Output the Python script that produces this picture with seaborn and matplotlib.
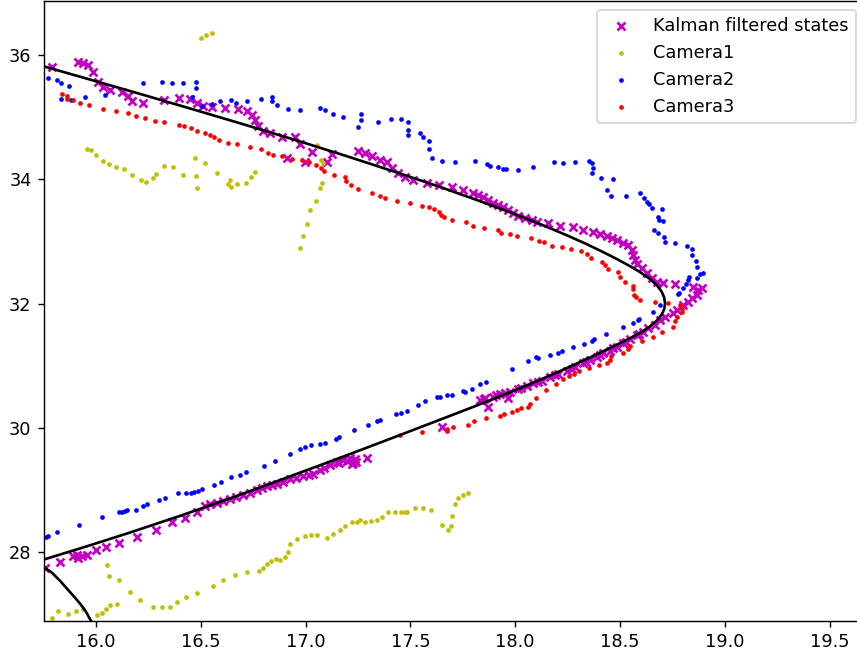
import matplotlib
matplotlib.use("Agg")
import matplotlib.pyplot as plt
import seaborn as sns

# Kalman filtered track states
kalman_x = [15.789, 15.916, 15.939, 15.963, 15.987, 16.011, 16.035, 16.067, 16.123, 16.151, 16.170, 16.226, 16.326, 16.397, 16.448, 16.480, 16.512, 16.552, 16.615, 16.679, 16.719, 16.743, 16.759, 16.774, 16.798, 16.830, 16.886, 16.949, 16.973, 17.029, 16.910, 16.997, 17.101, 17.125, 17.251, 17.283, 17.315, 17.355, 17.387, 17.411, 17.442, 17.474, 17.514, 17.578, 17.638, 17.697, 17.752, 17.800, 17.824, 17.848, 17.872, 17.896, 17.919, 17.943, 17.967, 17.991, 18.015, 18.047, 18.079, 18.103, 18.158, 18.214, 18.277, 18.325, 18.373, 18.405, 18.437, 18.460, 18.484, 18.516, 18.540, 18.556, 18.564, 18.572, 18.583, 18.604, 18.627, 18.651, 18.677, 18.707, 18.762, 18.850, 18.874, 18.890, 18.866, 18.842, 18.826, 18.802, 18.771, 18.754, 18.715, 18.691, 18.667, 18.635, 18.611, 18.580, 18.548, 18.516, 18.484, 18.452, 18.420, 18.389, 18.357, 18.325, 18.285, 18.246, 18.206, 18.166, 18.126, 18.086, 18.055, 18.015, 17.975, 17.967, 17.928, 17.896, 17.856, 17.872, 17.832, 17.649, 17.292, 17.228, 17.212, 17.180, 17.148, 17.116, 17.069, 17.037, 16.989, 16.926, 16.862, 16.814, 16.767, 16.703, 16.639, 16.576, 16.520, 16.480, 16.425, 16.361, 16.286, 16.194, 16.110, 16.048, 16.000, 15.956, 15.932, 15.916, 15.908, 15.892, 15.828, 15.757,
            16.545, 16.605, 16.670, 16.735, 16.790, 16.840, 16.890, 16.955, 17.015, 17.090, 17.160, 17.200, 17.235, 17.240, 17.220,
            17.850, 17.910, 17.950, 18.030, 18.110, 18.190, 18.270, 18.340, 18.405, 18.465, 18.530, 18.590]
kalman_y = [35.815, 35.883, 35.867, 35.839, 35.732, 35.571, 35.481, 35.437, 35.410, 35.341, 35.268, 35.233, 35.277, 35.304, 35.288, 35.223, 35.180, 35.169, 35.153, 35.127, 35.100, 35.035, 34.955, 34.858, 34.778, 34.741, 34.687, 34.677, 34.569, 34.445, 34.339, 34.275, 34.285, 34.404, 34.457, 34.420, 34.376, 34.312, 34.272, 34.178, 34.098, 34.043, 33.990, 33.947, 33.910, 33.873, 33.830, 33.786, 33.749, 33.712, 33.669, 33.625, 33.588, 33.551, 33.508, 33.465, 33.412, 33.375, 33.347, 33.320, 33.294, 33.251, 33.230, 33.187, 33.159, 33.122, 33.090, 33.063, 33.026, 32.982, 32.945, 32.865, 32.785, 32.704, 32.640, 32.571, 32.490, 32.410, 32.355, 32.334, 32.318, 32.275, 32.222, 32.249, 32.142, 32.088, 32.034, 31.981, 31.900, 31.847, 31.793, 31.740, 31.659, 31.606, 31.551, 31.498, 31.429, 31.365, 31.310, 31.246, 31.204, 31.150, 31.096, 31.043, 30.979, 30.924, 30.871, 30.818, 30.764, 30.722, 30.679, 30.625, 30.587, 30.481, 30.550, 30.506, 30.481, 30.346, 30.453, 30.024, 29.516, 29.441, 29.516, 29.489, 29.461, 29.408, 29.328, 29.264, 29.220, 29.178, 29.103, 29.060, 29.006, 28.926, 28.857, 28.793, 28.749, 28.642, 28.556, 28.481, 28.359, 28.251, 28.150, 28.085, 28.030, 27.961, 27.945, 27.908, 27.961, 27.934, 27.841, 27.747,
            28.770, 28.820, 28.890, 28.960, 29.030, 29.080, 29.130, 29.190, 29.250, 29.360, 29.430, 29.470, 29.500, 29.450, 29.420,
            30.470, 30.530, 30.560, 30.650, 30.745, 30.845, 30.950, 31.065, 31.175, 31.280, 31.390, 31.520]

# Camera 1 detections
cam1_x = [16.502, 16.524, 16.552, 15.959, 15.975, 16.001, 16.035, 16.061, 16.097, 16.134, 16.170, 16.213, 16.238, 16.271, 16.288, 16.324, 16.366, 16.417, 16.471, 16.479, 16.484, 16.520, 16.576, 16.638, 16.631, 16.644, 16.674, 16.717, 16.740, 16.757, 17.054, 17.073, 17.081, 17.079, 17.067, 17.050, 17.020, 17.005, 16.986, 16.975, 15.789, 15.820, 15.868, 15.905, 15.939, 16.005, 16.027, 16.048, 16.067, 16.099, 16.054, 16.062, 16.110, 16.164, 16.209, 16.271, 16.316, 16.353, 16.387, 16.428, 16.483, 16.557, 16.607, 16.663, 16.719, 16.779, 16.798, 16.816, 16.834, 16.859, 16.880, 16.902, 16.914, 16.926, 16.961, 16.996, 17.024, 17.054, 17.102, 17.132, 17.162, 17.187, 17.220, 17.244, 17.260, 17.282, 17.313, 17.339, 17.363, 17.394, 17.425, 17.455, 17.472, 17.484, 17.522, 17.560, 17.598, 17.652, 17.681, 17.694, 17.700, 17.713, 17.726, 17.750, 17.773]
cam1_y = [36.268, 36.317, 36.349, 34.494, 34.468, 34.387, 34.301, 34.243, 34.204, 34.175, 34.071, 33.990, 33.963, 34.018, 34.092, 34.219, 34.203, 34.071, 34.341, 34.058, 33.867, 34.259, 34.098, 33.990, 33.923, 33.870, 33.926, 33.947, 34.034, 34.111, 34.548, 34.312, 34.264, 33.947, 33.862, 33.658, 33.513, 33.283, 33.095, 32.892, 26.937, 27.050, 27.010, 27.050, 27.082, 26.992, 27.029, 27.089, 27.153, 27.174, 27.801, 27.613, 27.548, 27.359, 27.238, 27.121, 27.121, 27.121, 27.195, 27.281, 27.339, 27.460, 27.548, 27.629, 27.677, 27.696, 27.752, 27.814, 27.868, 27.900, 27.881, 27.926, 28.002, 28.130, 28.214, 28.267, 28.272, 28.272, 28.230, 28.299, 28.360, 28.416, 28.481, 28.481, 28.524, 28.481, 28.503, 28.519, 28.568, 28.645, 28.645, 28.645, 28.645, 28.645, 28.712, 28.712, 28.677, 28.444, 28.352, 28.416, 28.577, 28.770, 28.873, 28.926, 28.958]

# Camera 2 detections
cam2_x = [15.769, 15.813, 15.834, 15.870, 15.833, 15.882, 15.948, 16.043, 16.226, 16.313, 16.361, 16.417, 16.477, 16.477, 16.459, 16.506, 16.552, 16.593, 16.643, 16.670, 16.722, 16.785, 16.840, 16.842, 16.865, 16.914, 16.975, 17.067, 17.093, 17.129, 17.180, 17.251, 17.263, 17.263, 17.344, 17.406, 17.455, 17.491, 17.491, 17.491, 17.547, 17.560, 17.588, 17.588, 17.602, 17.652, 17.713, 17.808, 17.867, 17.880, 17.919, 17.943, 17.955, 18.015, 18.086, 18.187, 18.230, 18.285, 18.352, 18.365, 18.370, 18.365, 18.408, 18.468, 18.437, 18.456, 18.529, 18.595, 18.615, 18.627, 18.640, 18.651, 18.699, 18.680, 18.688, 18.704, 18.661, 18.680, 18.709, 18.715, 18.762, 18.818, 18.842, 18.842, 18.865, 18.867, 18.897, 18.882, 18.866, 18.831, 18.826, 18.815, 18.802, 18.783, 18.778, 18.691, 18.659, 18.593, 18.584, 18.561, 18.516, 18.433, 18.376, 18.365, 18.327, 18.277, 18.224, 18.206, 18.168, 18.110, 18.099, 18.063, 17.983, 17.861, 17.834, 17.795, 17.761, 17.752, 17.697, 17.673, 17.639, 17.628, 17.571, 17.538, 17.482, 17.457, 17.433, 17.355, 17.339, 17.299, 17.232, 17.160, 17.146, 17.093, 17.070, 17.027, 16.996, 16.971, 16.926, 16.854, 16.803, 16.717, 16.687, 16.644, 16.596, 16.564, 16.507, 16.488, 16.468, 16.455, 16.428, 16.393, 16.329, 16.302, 16.243, 16.226, 16.191, 16.150, 16.138, 16.123, 16.111, 16.029, 15.920, 15.814, 15.771, 15.761]
cam2_y = [35.625, 35.598, 35.545, 35.502, 35.293, 35.285, 35.320, 35.357, 35.545, 35.566, 35.545, 35.545, 35.566, 35.465, 35.320, 35.188, 35.212, 35.260, 35.277, 35.233, 35.260, 35.293, 35.320, 35.257, 35.193, 35.129, 35.111, 35.153, 35.111, 35.048, 35.008, 34.842, 34.950, 35.048, 34.923, 34.968, 34.966, 34.923, 34.794, 34.714, 34.741, 34.682, 34.613, 34.489, 34.339, 34.301, 34.280, 34.301, 34.243, 34.220, 34.195, 34.162, 34.162, 34.151, 34.195, 34.275, 34.259, 34.275, 34.301, 34.259, 34.178, 34.098, 34.027, 34.006, 33.830, 33.738, 33.738, 33.777, 33.696, 33.642, 33.605, 33.535, 33.519, 33.391, 33.347, 33.331, 33.187, 33.138, 33.079, 32.998, 32.973, 32.934, 32.881, 32.789, 32.688, 32.596, 32.490, 32.474, 32.410, 32.436, 32.383, 32.314, 32.249, 32.178, 32.153, 31.973, 31.873, 31.759, 31.740, 31.691, 31.627, 31.506, 31.426, 31.402, 31.359, 31.301, 31.233, 31.214, 31.177, 31.124, 31.150, 31.085, 30.947, 30.738, 30.706, 30.633, 30.587, 30.603, 30.534, 30.529, 30.506, 30.506, 30.433, 30.373, 30.280, 30.240, 30.224, 30.121, 30.105, 30.052, 29.963, 29.854, 29.831, 29.762, 29.746, 29.725, 29.690, 29.666, 29.582, 29.476, 29.392, 29.288, 29.252, 29.207, 29.124, 29.084, 29.011, 28.979, 28.963, 28.958, 28.953, 28.953, 28.873, 28.834, 28.778, 28.738, 28.685, 28.685, 28.658, 28.642, 28.642, 28.564, 28.444, 28.320, 28.256, 28.246]

# Camera 3 detections
cam3_x = [15.836, 15.862, 15.862, 15.888, 15.924, 15.968, 16.035, 16.095, 16.151, 16.190, 16.232, 16.281, 16.324, 16.397, 16.421, 16.453, 16.484, 16.522, 16.546, 16.564, 16.588, 16.631, 16.674, 16.735, 16.785, 16.822, 16.846, 16.886, 16.934, 16.981, 17.015, 17.051, 17.074, 17.090, 17.134, 17.189, 17.191, 17.215, 17.251, 17.319, 17.356, 17.380, 17.436, 17.498, 17.556, 17.590, 17.613, 17.636, 17.646, 17.662, 17.700, 17.765, 17.800, 17.853, 17.917, 17.932, 17.975, 18.007, 18.074, 18.114, 18.137, 18.174, 18.222, 18.268, 18.315, 18.341, 18.360, 18.413, 18.427, 18.443, 18.492, 18.500, 18.524, 18.561, 18.561, 18.565, 18.576, 18.595, 18.669, 18.730, 18.786, 18.798, 18.794, 18.773, 18.763, 18.754, 18.701, 18.657, 18.604, 18.550, 18.538, 18.516, 18.457, 18.451, 18.437, 18.400, 18.354, 18.304, 18.279, 18.256, 18.230, 18.194, 18.148, 18.101, 18.069, 18.061, 18.029, 18.009, 17.983, 17.945, 17.928, 17.861, 17.804, 17.776, 17.702, 17.675, 17.673, 17.554, 17.449]
cam3_y = [35.378, 35.336, 35.289, 35.277, 35.233, 35.191, 35.129, 35.104, 35.063, 35.019, 34.982, 34.944, 34.920, 34.879, 34.858, 34.822, 34.778, 34.751, 34.714, 34.682, 34.629, 34.590, 34.566, 34.526, 34.486, 34.424, 34.400, 34.381, 34.331, 34.304, 34.285, 34.232, 34.178, 34.138, 34.071, 34.034, 33.969, 33.902, 33.842, 33.786, 33.738, 33.696, 33.656, 33.616, 33.577, 33.561, 33.519, 33.471, 33.428, 33.391, 33.347, 33.307, 33.256, 33.224, 33.187, 33.143, 33.117, 33.095, 33.053, 33.014, 32.989, 32.934, 32.913, 32.878, 32.849, 32.801, 32.736, 32.667, 32.629, 32.563, 32.503, 32.436, 32.355, 32.286, 32.233, 32.146, 32.109, 32.061, 32.021, 32.008, 31.981, 31.913, 31.871, 31.793, 31.727, 31.624, 31.547, 31.461, 31.405, 31.322, 31.270, 31.204, 31.158, 31.088, 31.043, 31.011, 30.968, 30.916, 30.876, 30.836, 30.786, 30.707, 30.614, 30.481, 30.394, 30.346, 30.320, 30.293, 30.265, 30.233, 30.196, 30.159, 30.113, 30.052, 30.015, 29.979, 29.944, 29.928, 29.891]

# Fitted trajectory (main arc) and the lower-left segment
track_x = [15.752, 15.950, 16.200, 16.450, 16.700, 16.950, 17.200, 17.450, 17.640, 17.820, 17.980, 18.120, 18.240, 18.340, 18.420, 18.490, 18.550, 18.600, 18.642, 18.675, 18.698, 18.711, 18.715,
           18.711, 18.698, 18.676, 18.645, 18.605, 18.557, 18.500, 18.435, 18.360, 18.280, 18.190, 18.080, 17.950, 17.800, 17.600, 17.400, 17.150, 16.900, 16.650, 16.400, 16.150, 15.950, 15.752]
track_y = [35.818, 35.627, 35.385, 35.140, 34.890, 34.635, 34.370, 34.095, 33.880, 33.665, 33.465, 33.280, 33.110, 32.960, 32.830, 32.710, 32.600, 32.500, 32.400, 32.300, 32.200, 32.100, 32.000,
           31.910, 31.820, 31.730, 31.640, 31.550, 31.460, 31.365, 31.260, 31.140, 31.015, 30.880, 30.720, 30.540, 30.340, 30.080, 29.822, 29.502, 29.190, 28.880, 28.585, 28.305, 28.090, 27.885]
tail_x = [15.752, 15.790, 15.828, 15.866, 15.900, 15.928, 15.952, 15.976]
tail_y = [27.760, 27.672, 27.544, 27.399, 27.270, 27.158, 27.045, 26.900]

DPI = 128
fig = plt.figure(figsize=(857 / DPI, 655 / DPI), dpi=DPI)
ax = fig.add_axes([44 / 857, 34.3 / 655, 821 / 857, 619.7 / 655])

sns.scatterplot(x=kalman_x, y=kalman_y, marker="x", color="m", s=20,
                linewidth=1.5, label="Kalman filtered states", ax=ax)
sns.scatterplot(x=cam1_x, y=cam1_y, marker="o", color="y", s=7,
                linewidth=0, label="Camera1", ax=ax)
sns.scatterplot(x=cam2_x, y=cam2_y, marker="o", color="b", s=7,
                linewidth=0, label="Camera2", ax=ax)
sns.scatterplot(x=cam3_x, y=cam3_y, marker="o", color="r", s=7,
                linewidth=0, label="Camera3", ax=ax)

sns.lineplot(x=track_x, y=track_y, sort=False, estimator=None, color="k",
             linewidth=1.5, legend=False, label="_nolegend_", ax=ax)
sns.lineplot(x=tail_x, y=tail_y, sort=False, estimator=None, color="k",
             linewidth=1.5, legend=False, label="_nolegend_", ax=ax)

ax.set_xlim(15.752, 19.669)
ax.set_ylim(26.9, 36.87)
ax.set_xticks([16.0, 16.5, 17.0, 17.5, 18.0, 18.5, 19.0, 19.5])
ax.set_yticks([28, 30, 32, 34, 36])
ax.legend(loc="upper right")

fig.savefig("out.png", dpi=DPI)
